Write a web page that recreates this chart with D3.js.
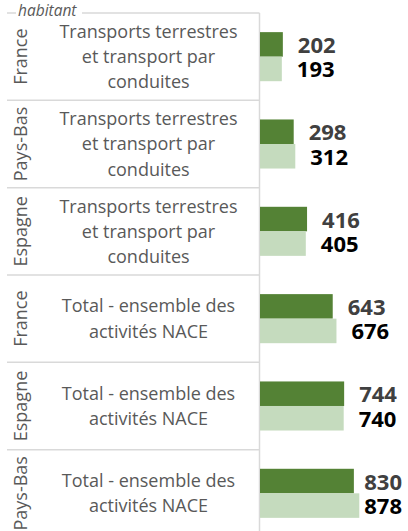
<!DOCTYPE html>
<html>
<head>
<meta charset="utf-8">
<script src="https://cdn.jsdelivr.net/npm/d3@7"></script>
<style>
  html, body { margin: 0; padding: 0; background: #fff; }
  svg { display: block; }
</style>
</head>
<body>
<svg id="chart" width="408" height="531"></svg>
<script>
const countries = ["France", "Pays-Bas", "Espagne", "France", "Espagne", "Pays-Bas"];
const activities = [
  "Transports terrestres et transport par conduites",
  "Transports terrestres et transport par conduites",
  "Transports terrestres et transport par conduites",
  "Total - ensemble des activités NACE",
  "Total - ensemble des activités NACE",
  "Total - ensemble des activités NACE"
];
const activityLines = [
  ["Transports terrestres", "et transport par", "conduites"],
  ["Total - ensemble des", "activités NACE"]
];
const seriesNames = ["Série 1", "Série 2"];
const seriesDark = [202, 298, 416, 643, 744, 830];
const seriesLight = [193, 312, 405, 676, 740, 878];
const titleTail = "habitant";

(function () {
const svg = d3.select("#chart");
const font = "'Open Sans', 'Noto Sans', sans-serif";

const rows = countries.map((c, i) => ({
  key: i, country: c, activity: activities[i],
  values: [seriesDark[i], seriesLight[i]]
}));

const top0 = 13, step = 87.33;
const y = d3.scaleBand().domain(rows.map(d => d.key))
  .range([top0, top0 + step * rows.length]).paddingInner(0).paddingOuter(0);
const yInner = d3.scaleBand().domain([0, 1]).range([0, y.bandwidth()])
  .paddingInner(0).paddingOuter(0.78);
const x = d3.scaleLinear().domain([0, 1000]).range([260, 373.1]);
const colors = ["#548235", "#c5dbbe"];
const labelColors = ["#404040", "#000000"];
const plotRight = 402;

// separators
const gridColor = "#d9d9d9";
svg.append("g").selectAll("line").data(rows.map(d => y(d.key)))
  .join("line")
  .attr("x1", 7).attr("x2", 259.5)
  .attr("y1", d => d).attr("y2", d => d)
  .attr("stroke", gridColor).attr("stroke-width", 1.5);
svg.append("line").attr("x1", 259.5).attr("x2", 259.5)
  .attr("y1", top0).attr("y2", 531)
  .attr("stroke", gridColor).attr("stroke-width", 1.5);

// bars
const g = svg.append("g").selectAll("g").data(rows).join("g")
  .attr("transform", d => `translate(0,${y(d.key)})`);
g.selectAll("rect").data(d => d.values.map((v, s) => ({v, s})))
  .join("rect")
  .attr("x", x(0))
  .attr("y", d => yInner(d.s))
  .attr("width", d => x(d.v) - x(0))
  .attr("height", yInner.bandwidth())
  .attr("fill", d => colors[d.s]);
g.selectAll("text.val").data(d => d.values.map((v, s) => ({v, s})))
  .join("text").attr("class", "val")
  .attr("y", d => yInner(d.s) + yInner.bandwidth() / 2 + 8.5)
  .attr("font-family", font).attr("font-weight", "bold").attr("font-size", 22)
  .attr("fill", d => labelColors[d.s])
  .text(d => d.v)
  .attr("x", function(d) {
    const w = this.getComputedTextLength();
    return Math.min(x(d.v) + 15, plotRight - w);
  });

// activity labels
g.each(function(d) {
  const lines = d.activity.startsWith("Transports") ? activityLines[0] : activityLines[1];
  const cy = y.bandwidth() / 2;
  const lh = 25.3;
  d3.select(this).selectAll("text.act").data(lines).join("text").attr("class", "act")
    .attr("x", 148.5)
    .attr("y", (t, i) => cy + (i - (lines.length - 1) / 2) * lh + 6.5)
    .attr("text-anchor", "middle")
    .attr("font-family", font).attr("font-size", 18)
    .attr("fill", "#595959")
    .text(t => t);
  d3.select(this).append("text")
    .attr("transform", `translate(27,${cy}) rotate(-90)`)
    .attr("text-anchor", "middle")
    .attr("font-family", font).attr("font-size", 18)
    .attr("fill", "#595959")
    .text(d.country);
});

// title tail
svg.append("rect").attr("x", 16).attr("y", 0).attr("width", 66).attr("height", 14.5).attr("fill", "#fff");
svg.append("text").attr("x", 18).attr("y", 15.5)
  .attr("font-family", font).attr("font-style", "italic").attr("font-size", 15.5)
  .attr("fill", "#595959").text(titleTail);
})();
</script>
</body>
</html>
